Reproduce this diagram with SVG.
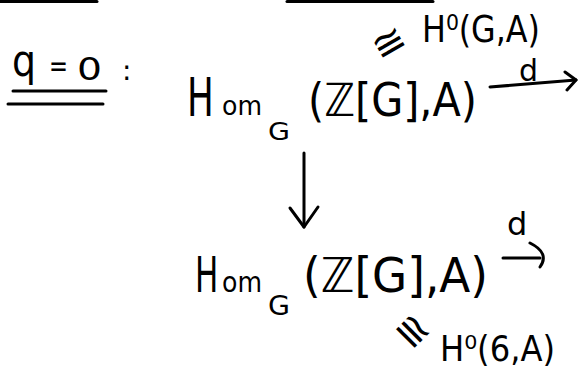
<svg xmlns="http://www.w3.org/2000/svg" width="578" height="370" viewBox="0 0 578 370">
<style>
  text { font-family: "DejaVu Sans", "Liberation Sans", sans-serif; fill: #000; }
  .ln { stroke: #000; stroke-width: 3; fill: none; stroke-linecap: round; stroke-linejoin: round; }
</style>
<rect width="578" height="370" fill="#fff"/>
<g id="edge-lines">
  <line class="ln" x1="0" y1="1.5" x2="97" y2="1.5"/>
  <line class="ln" x1="287" y1="1.5" x2="433" y2="1.5"/>
</g>
<g id="label-q0">
  <text x="12" y="76" font-size="44" textLength="24" lengthAdjust="spacingAndGlyphs">q</text>
  <text x="49" y="76" font-size="30" textLength="19" lengthAdjust="spacingAndGlyphs">=</text>
  <text x="77" y="80" font-size="32" textLength="25" lengthAdjust="spacingAndGlyphs">0</text>
  <line class="ln" x1="13" y1="91" x2="106" y2="91"/>
  <line class="ln" x1="8" y1="104" x2="103" y2="104"/>
  <text x="122" y="80" font-size="28">:</text>
</g>
<g id="node-top">
  <text transform="translate(187,116) scale(0.66,1)" font-size="54">H</text>
  <text x="222" y="115" font-size="26" textLength="40" lengthAdjust="spacingAndGlyphs">om</text>
  <text x="268" y="140" font-size="24" textLength="22" lengthAdjust="spacingAndGlyphs">G</text>
  <text x="308" y="116" font-size="46" textLength="169" lengthAdjust="spacingAndGlyphs">(ℤ[G],A)</text>
</g>
<g id="label-top-iso">
  <text x="389" y="56" font-size="40" text-anchor="middle" transform="rotate(-30 389 43)">≅</text>
  <text x="422" y="42" font-size="38" textLength="118" lengthAdjust="spacingAndGlyphs">H⁰(G,A)</text>
</g>
<g id="node-bottom">
  <text transform="translate(195,292) scale(0.62,1)" font-size="50">H</text>
  <text x="222" y="292" font-size="28" textLength="40" lengthAdjust="spacingAndGlyphs">om</text>
  <text x="268" y="315" font-size="26" textLength="22" lengthAdjust="spacingAndGlyphs">G</text>
  <text x="303" y="292" font-size="48" textLength="185" lengthAdjust="spacingAndGlyphs">(ℤ[G],A)</text>
</g>
<g id="label-bottom-iso">
  <text x="412" y="345" font-size="42" text-anchor="middle" transform="rotate(45 412 332)">≅</text>
  <text x="440" y="361" font-size="36" textLength="115" lengthAdjust="spacingAndGlyphs">H⁰(6,A)</text>
</g>
<g id="connectors">
  <path class="ln" d="M490,87 L576,80"/>
  <path class="ln" d="M565,72 L576,80 L567,90"/>
  <text x="519" y="81" font-size="30">d</text>
  <path class="ln" d="M304,153 L304,227"/>
  <path class="ln" d="M290,208 L304,227 L318,207"/>
  <path class="ln" d="M503,258 L540,258"/>
  <path class="ln" d="M530,243 Q550,253 540,267"/>
  <text x="507" y="235" font-size="32">d</text>
</g>
</svg>
